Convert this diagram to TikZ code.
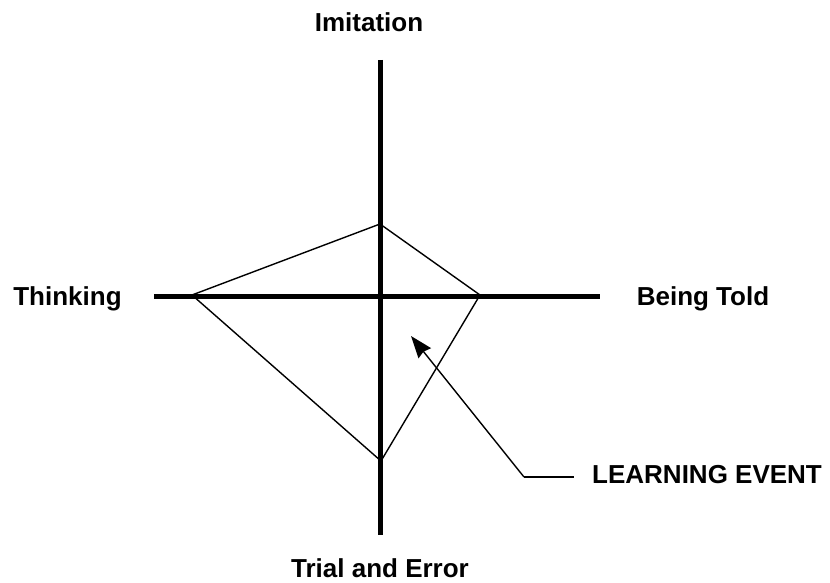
\documentclass[tikz,border=0pt]{standalone}
\usepackage{fontspec}
\setmainfont{Liberation Sans}
\usetikzlibrary{arrows.meta}
\begin{document}
\begin{tikzpicture}[x=1pt,y=-1pt,
  axis/.style={line width=5.5pt},
  thin/.style={line width=1.4pt, line join=miter},
  lbl/.style={inner sep=0pt, font=\fontsize{26}{30}\selectfont\bfseries}]
\useasboundingbox (0,0) rectangle (830,583);
% axes
\coordinate (vtop) at (380.5,60);
\coordinate (vbot) at (380.5,535);
\coordinate (hl) at (154,296.5);
\coordinate (hr) at (600,296.5);
\draw[axis] (vtop) -- (vbot);
\draw[axis] (hl) -- (hr);
% diamond
\coordinate (dl) at (192,295);
\coordinate (dt) at (380,224);
\coordinate (dr) at (480,295);
\coordinate (db) at (381,461);
\draw[thin] (dl) -- (dt) -- (dr) -- (db) -- cycle;
% labels
\node[lbl, anchor=base] (imit) at (369,32) {Imitation};
\node[lbl, anchor=base] (think) at (67.5,305) {Thinking};
\node[lbl, anchor=base] (told) at (703,305) {Being Told};
\node[lbl, anchor=base] (trial) at (380,577) {Trial and Error};
\node[lbl, anchor=base west] (ev) at (592,483) {LEARNING EVENT};
% learning event pointer
\coordinate (tail) at (524,477);
\coordinate (tip) at (411,336);
\coordinate (evline) at (574,477);
\draw[thin, -{Stealth[length=22pt,width=16pt,inset=2pt]}] (tail) -- (tip);
\draw[thin] (tail) -- (evline);
\end{tikzpicture}
\end{document}
